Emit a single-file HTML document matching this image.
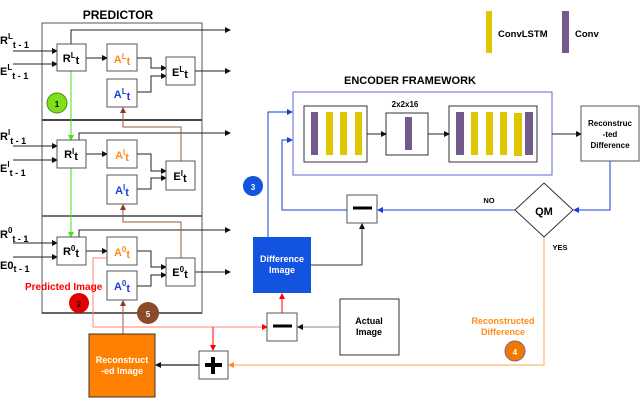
<!DOCTYPE html>
<html><head><meta charset="utf-8"><style>
html,body{margin:0;padding:0;background:#fff;}
svg{display:block;font-family:"Liberation Sans",sans-serif;font-weight:bold;}
</style></head><body>
<svg width="640" height="408" viewBox="0 0 640 408" xmlns="http://www.w3.org/2000/svg">
<defs>
<marker id="ak" markerWidth="6" markerHeight="6" refX="5" refY="3" orient="auto" markerUnits="userSpaceOnUse"><path d="M0,0 L6,3 L0,6 z" fill="#111"/></marker>
<marker id="ar" markerWidth="6" markerHeight="6" refX="5" refY="3" orient="auto" markerUnits="userSpaceOnUse"><path d="M0,0 L6,3 L0,6 z" fill="#f00"/></marker>
<marker id="ab" markerWidth="6" markerHeight="6" refX="5" refY="3" orient="auto" markerUnits="userSpaceOnUse"><path d="M0,0 L6,3 L0,6 z" fill="#1a3fd6"/></marker>
<marker id="ao" markerWidth="6" markerHeight="6" refX="5" refY="3" orient="auto" markerUnits="userSpaceOnUse"><path d="M0,0 L6,3 L0,6 z" fill="#ff8c1a"/></marker>
<marker id="abr" markerWidth="6" markerHeight="6" refX="5" refY="3" orient="auto" markerUnits="userSpaceOnUse"><path d="M0,0 L6,3 L0,6 z" fill="#8b3a1a"/></marker>
<marker id="ag" markerWidth="6" markerHeight="6" refX="5" refY="3" orient="auto" markerUnits="userSpaceOnUse"><path d="M0,0 L6,3 L0,6 z" fill="#4ce01a"/></marker>
</defs>

<text x="118" y="19" font-size="12" text-anchor="middle">PREDICTOR</text>
<rect x="42" y="23" width="160" height="290" fill="none" stroke="#555" stroke-width="1"/>
<line x1="42" y1="120" x2="202" y2="120" stroke="#444" stroke-width="2"/>
<line x1="42" y1="216" x2="202" y2="216" stroke="#444" stroke-width="1.5"/>
<line x1="42" y1="313" x2="202" y2="313" stroke="#333" stroke-width="1.5"/>

<g font-size="11">
<text x="0" y="44">R<tspan dy="-5" font-size="8">L</tspan><tspan dy="9" font-size="9">t - 1</tspan></text>
<text x="0" y="75">E<tspan dy="-5" font-size="8">L</tspan><tspan dy="9" font-size="9">t - 1</tspan></text>
<text x="0" y="140">R<tspan dy="-5" font-size="8">l</tspan><tspan dy="9" font-size="9">t - 1</tspan></text>
<text x="0" y="172">E<tspan dy="-5" font-size="8">l</tspan><tspan dy="9" font-size="9">t - 1</tspan></text>
<text x="0" y="238">R<tspan dy="-5" font-size="8">0</tspan><tspan dy="9" font-size="9">t - 1</tspan></text>
<text x="0" y="269">E0<tspan dy="3" font-size="9">t - 1</tspan></text>
</g>

<g stroke="#222" stroke-width="1" fill="none">
<line x1="13" y1="51" x2="57" y2="51" marker-end="url(#ak)"/>
<line x1="13" y1="64" x2="57" y2="64" marker-end="url(#ak)"/>
<line x1="13" y1="146" x2="57" y2="146" marker-end="url(#ak)"/>
<line x1="13" y1="160" x2="57" y2="160" marker-end="url(#ak)"/>
<line x1="13" y1="243" x2="57" y2="243" marker-end="url(#ak)"/>
<line x1="13" y1="257" x2="57" y2="257" marker-end="url(#ak)"/>
<polyline points="71,44 71,30 230,30" marker-end="url(#ak)"/>
<polyline points="79,140 79,133 230,133" marker-end="url(#ak)"/>
<polyline points="79,237 79,230 230,230" marker-end="url(#ak)"/>
<line x1="86" y1="58" x2="107" y2="58" marker-end="url(#ak)"/>
<line x1="86" y1="154" x2="107" y2="154" marker-end="url(#ak)"/>
<line x1="86" y1="251" x2="107" y2="251" marker-end="url(#ak)"/>
<polyline points="137,58 151,58 151,68 166,68" marker-end="url(#ak)"/>
<polyline points="137,92 151,92 151,76 166,76" marker-end="url(#ak)"/>
<polyline points="137,154 151,154 151,171 166,171" marker-end="url(#ak)"/>
<polyline points="137,189 151,189 151,178 166,178" marker-end="url(#ak)"/>
<polyline points="137,251 151,251 151,267 166,267" marker-end="url(#ak)"/>
<polyline points="137,286 151,286 151,275 166,275" marker-end="url(#ak)"/>
<line x1="195" y1="71" x2="230" y2="71" marker-end="url(#ak)"/>
<line x1="195" y1="272" x2="230" y2="272" marker-end="url(#ak)"/>
</g>

<line x1="71" y1="71" x2="71" y2="140" stroke="#4ce01a" stroke-width="1" marker-end="url(#ag)"/>
<line x1="71" y1="168" x2="71" y2="237" stroke="#4ce01a" stroke-width="1" marker-end="url(#ag)"/>
<g stroke="#9a5a3a" stroke-width="1" fill="none">
<polyline points="181,161 181,127 123,127 123,108" marker-end="url(#abr)"/>
<polyline points="181,258 181,222 123,222 123,205" marker-end="url(#abr)"/>
<polyline points="123,334 123,301" marker-end="url(#abr)"/>
</g>

<g stroke="#555" fill="#fff" stroke-width="1">
<rect x="57" y="44" width="29" height="27"/><rect x="107" y="44" width="30" height="27"/><rect x="107" y="79" width="30" height="28"/><rect x="166" y="57" width="29" height="28"/>
<rect x="57" y="140" width="29" height="28"/><rect x="107" y="140" width="30" height="28"/><rect x="107" y="175" width="30" height="29"/><rect x="166" y="161" width="29" height="29"/>
<rect x="57" y="237" width="29" height="28"/><rect x="107" y="237" width="30" height="28"/><rect x="107" y="271" width="30" height="29"/><rect x="166" y="258" width="29" height="28"/>
</g>
<g font-size="11" text-anchor="middle">
<text x="71" y="62">R<tspan dy="-4" font-size="8">L</tspan><tspan dy="6">t</tspan></text>
<text x="122" y="63" fill="#ff8c1a">A<tspan dy="-4" font-size="8">L</tspan><tspan dy="6">t</tspan></text>
<text x="122" y="98" fill="#1a3fd6">A<tspan dy="-4" font-size="8">L</tspan><tspan dy="6">t</tspan></text>
<text x="180" y="76">E<tspan dy="-4" font-size="8">L</tspan><tspan dy="6">t</tspan></text>
<text x="71" y="158">R<tspan dy="-4" font-size="8">l</tspan><tspan dy="6">t</tspan></text>
<text x="122" y="159" fill="#ff8c1a">A<tspan dy="-4" font-size="8">l</tspan><tspan dy="6">t</tspan></text>
<text x="122" y="194" fill="#1a3fd6">A<tspan dy="-4" font-size="8">l</tspan><tspan dy="6">t</tspan></text>
<text x="180" y="180">E<tspan dy="-4" font-size="8">l</tspan><tspan dy="6">t</tspan></text>
<text x="71" y="255">R<tspan dy="-4" font-size="8">0</tspan><tspan dy="6">t</tspan></text>
<text x="122" y="256" fill="#ff8c1a">A<tspan dy="-4" font-size="8">0</tspan><tspan dy="6">t</tspan></text>
<text x="122" y="290" fill="#1a3fd6">A<tspan dy="-4" font-size="8">0</tspan><tspan dy="6">t</tspan></text>
<text x="180" y="276">E<tspan dy="-4" font-size="8">0</tspan><tspan dy="6">t</tspan></text>
</g>

<g stroke="#f00" stroke-width="1" fill="none">
<polyline points="107,258 93,258 93,327 267,327" marker-end="url(#ar)" stroke="#ff8080"/>
<line x1="213" y1="327" x2="213" y2="350" marker-end="url(#ar)"/>
<line x1="282" y1="313" x2="282" y2="294" marker-end="url(#ar)"/>
</g>
<text x="25" y="290" font-size="10" fill="#f00">Predicted Image</text>

<circle cx="57" cy="103" r="10" fill="#7ee01a" stroke="#4a8a10"/><text x="57" y="107" font-size="8" text-anchor="middle">1</text>
<circle cx="79" cy="303" r="10" fill="#e00000"/><text x="79" y="307" font-size="8" text-anchor="middle" fill="#300">2</text>
<circle cx="148" cy="313" r="11" fill="#8b4a2a"/><text x="148" y="317" font-size="8" text-anchor="middle" fill="#fff">5</text>
<circle cx="253" cy="186" r="10" fill="#1254e0"/><text x="253" y="190" font-size="8" text-anchor="middle" fill="#fff">3</text>
<circle cx="515" cy="351" r="10" fill="#f07a00" stroke="#8a5aa0"/><text x="515" y="355" font-size="8" text-anchor="middle" fill="#fff">4</text>

<rect x="89" y="334" width="66" height="63" fill="#ff8000" stroke="#333"/>
<text x="122" y="363" font-size="9" text-anchor="middle" fill="#fff">Reconstruct</text>
<text x="122" y="374" font-size="9" text-anchor="middle" fill="#fff">-ed Image</text>
<line x1="199" y1="365" x2="156" y2="365" stroke="#444" stroke-width="1.5" marker-end="url(#ak)"/>
<rect x="199" y="351" width="29" height="28" fill="#fff" stroke="#555"/>
<path d="M213,357 V374 M205,365 H222" stroke="#000" stroke-width="4"/>
<polyline points="544,237 544,365 229,365" fill="none" stroke="#ffb870" stroke-width="1.2" marker-end="url(#ao)"/>

<rect x="267" y="313" width="30" height="28" fill="#fff" stroke="#555"/>
<line x1="273" y1="326" x2="292" y2="326" stroke="#000" stroke-width="3"/>
<rect x="340" y="299" width="59" height="56" fill="#fff" stroke="#333"/>
<text x="369" y="324" font-size="9" text-anchor="middle">Actual</text>
<text x="369" y="335" font-size="9" text-anchor="middle">Image</text>
<line x1="340" y1="327" x2="298" y2="327" stroke="#888" marker-end="url(#ak)"/>

<rect x="253" y="237" width="58" height="56" fill="#1254e0"/>
<text x="282" y="262" font-size="9" text-anchor="middle" fill="#fff">Difference</text>
<text x="282" y="273" font-size="9" text-anchor="middle" fill="#fff">Image</text>
<polyline points="311,265 362,265 362,224" fill="none" stroke="#333" marker-end="url(#ak)"/>
<rect x="347" y="195" width="30" height="28" fill="#fff" stroke="#555"/>
<line x1="353" y1="208" x2="372" y2="208" stroke="#000" stroke-width="3"/>

<g stroke="#1a3fd6" stroke-width="1" fill="none">
<polyline points="268,237 268,112 292,112" marker-end="url(#ab)"/>
<polyline points="347,210 282,210 282,140 292,140" marker-end="url(#ab)"/>
<line x1="515" y1="210" x2="378" y2="210" marker-end="url(#ab)"/>
<polyline points="610,161 610,210 574,210" marker-end="url(#ab)"/>
</g>
<text x="489" y="203" font-size="7.5" text-anchor="middle">NO</text>
<text x="560" y="250" font-size="7.5" text-anchor="middle">YES</text>
<polygon points="544,183 573,210 544,237 515,210" fill="#fff" stroke="#333"/>
<text x="544" y="215" font-size="11" text-anchor="middle">QM</text>

<text x="410" y="84" font-size="11" text-anchor="middle">ENCODER FRAMEWORK</text>
<rect x="293" y="92" width="259" height="83" fill="none" stroke="#5a6ad6"/>
<rect x="304" y="106" width="63" height="56" fill="#fff" stroke="#333"/>
<rect x="386" y="113" width="42" height="42" fill="#fff" stroke="#333"/>
<rect x="449" y="106" width="88" height="56" fill="#fff" stroke="#333"/>
<text x="405" y="107" font-size="8" text-anchor="middle">2x2x16</text>
<g>
<rect x="311" y="112" width="7" height="43" fill="#735a8a"/>
<rect x="326" y="112" width="7" height="43" fill="#e0c600"/>
<rect x="340" y="112" width="7" height="43" fill="#e0c600"/>
<rect x="355" y="112" width="7" height="43" fill="#e0c600"/>
<rect x="405" y="117" width="7" height="33" fill="#735a8a"/>
<rect x="456" y="112" width="8" height="43" fill="#735a8a"/>
<rect x="471" y="112" width="7" height="43" fill="#e0c600"/>
<rect x="486" y="112" width="7" height="43" fill="#e0c600"/>
<rect x="500" y="112" width="7" height="43" fill="#e0c600"/>
<rect x="514" y="113" width="8" height="43" fill="#e0c600"/>
<rect x="525" y="112" width="8" height="43" fill="#735a8a"/>
</g>
<line x1="367" y1="134" x2="386" y2="134" stroke="#222" marker-end="url(#ak)"/>
<line x1="428" y1="134" x2="449" y2="134" stroke="#222" marker-end="url(#ak)"/>
<line x1="552" y1="134" x2="581" y2="134" stroke="#222" marker-end="url(#ak)"/>
<rect x="581" y="106" width="58" height="55" fill="#fff" stroke="#555"/>
<text x="610" y="126" font-size="8" text-anchor="middle">Reconstruc</text>
<text x="610" y="137" font-size="8" text-anchor="middle">-ted</text>
<text x="610" y="148" font-size="8" text-anchor="middle">Difference</text>

<rect x="486" y="11" width="6" height="42" fill="#e0c600"/>
<text x="498" y="37" font-size="9.5">ConvLSTM</text>
<rect x="562" y="11" width="7" height="42" fill="#735a8a"/>
<text x="575" y="37" font-size="9.5">Conv</text>

<text x="503" y="324" font-size="9" text-anchor="middle" fill="#ff8c1a">Reconstructed</text>
<text x="503" y="335" font-size="9" text-anchor="middle" fill="#ff8c1a">Difference</text>
</svg>
</body></html>
